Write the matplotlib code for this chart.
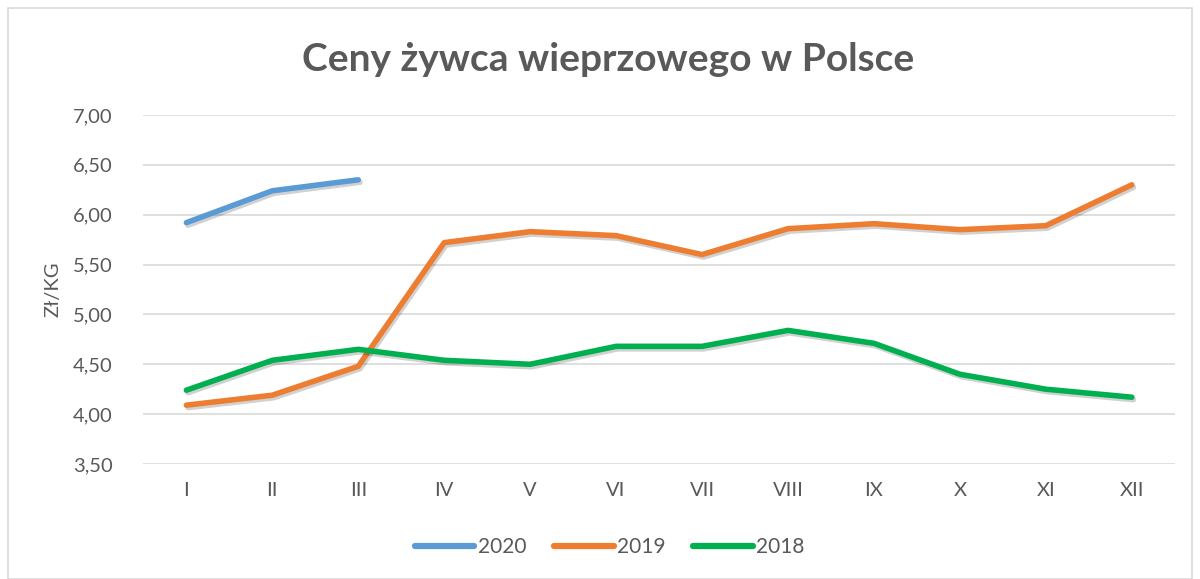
import matplotlib
matplotlib.use("Agg")
import matplotlib.pyplot as plt
import matplotlib.patheffects as pe
from matplotlib.patches import Rectangle

months = ["I", "II", "III", "IV", "V", "VI", "VII", "VIII", "IX", "X", "XI", "XII"]
y2020 = [5.92, 6.24, 6.35]
y2019 = [4.09, 4.19, 4.48, 5.72, 5.83, 5.79, 5.60, 5.86, 5.91, 5.85, 5.89, 6.30]
y2018 = [4.24, 4.54, 4.65, 4.54, 4.50, 4.68, 4.68, 4.84, 4.71, 4.40, 4.25, 4.17]
yticks = [3.5, 4.0, 4.5, 5.0, 5.5, 6.0, 6.5, 7.0]

plt.rcParams['font.family'] = ['Lato', 'DejaVu Sans']
txt = '#595959'

fig = plt.figure(figsize=(12, 5.79), dpi=100)
ax = fig.add_axes([0.1195, 0.1986, 0.8595, 0.6028])

fig.patches.append(Rectangle((8/1200, 0), 1184/1200, 1 - 8/579, transform=fig.transFigure,
                             fill=False, edgecolor='#d9d9d9', linewidth=1.2))

shadow = [pe.SimpleLineShadow(offset=(1.2, -1.8), shadow_color='black', alpha=0.18), pe.Normal()]
x = list(range(len(months)))
ax.plot(x[:len(y2020)], y2020, color='#5b9bd5', lw=4.0, solid_capstyle='round', label='2020', path_effects=shadow)
ax.plot(x, y2019, color='#ed7d31', lw=4.0, solid_capstyle='round', label='2019', path_effects=shadow)
ax.plot(x, y2018, color='#00b050', lw=4.0, solid_capstyle='round', label='2018', path_effects=shadow)

ax.set_xlim(-0.5, 11.5)
ax.set_ylim(3.5, 7.0)
ax.set_yticks(yticks)
ax.set_yticklabels([f"{v:.2f}".replace('.', ',') for v in yticks])
ax.set_xticks(x)
ax.set_xticklabels(months)
ax.tick_params(axis='both', length=0, labelsize=14.5, colors=txt)
ax.tick_params(axis='x', pad=13)
ax.tick_params(axis='y', pad=22)
ax.grid(axis='y', color='#d9d9d9', linewidth=1.2)
ax.set_axisbelow(True)
for s in ax.spines.values():
    s.set_visible(False)

ax.set_ylabel('Zł/KG', fontsize=14.5, color=txt, labelpad=8)
fig.text(0.507, 0.897, 'Ceny żywca wieprzowego w Polsce', ha='center', va='center',
         fontsize=28, fontweight='bold', color=txt)

leg = fig.legend(loc='center', bbox_to_anchor=(0.508, 0.055), ncol=3, frameon=False,
                 fontsize=15, handlelength=2.85, handletextpad=0.15, columnspacing=1.35)
for t in leg.get_texts():
    t.set_color(txt)
for h in leg.get_lines():
    h.set_path_effects([])
    h.set_linewidth(4.5)

fig.savefig('out.png', dpi=100)
